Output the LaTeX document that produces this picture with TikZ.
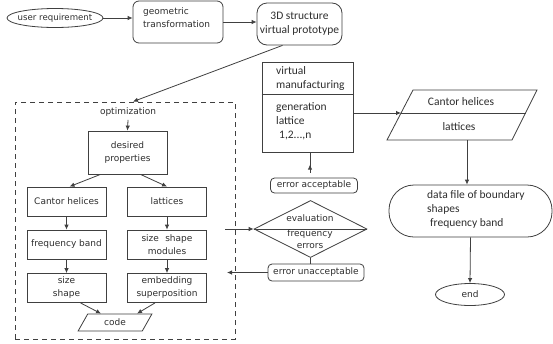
\documentclass[tikz,border=0pt]{standalone}
\usepackage{fontspec}
\setmainfont{DejaVu Sans}
\newfontfamily\calfont{Carlito}
\usetikzlibrary{arrows.meta,shapes.geometric,calc}
\definecolor{lnc}{HTML}{404040}
\definecolor{txc}{HTML}{2E2E2E}
\begin{document}
\begin{tikzpicture}[x=1pt,y=-1pt,
  every node/.style={text=txc, font=\fontsize{9}{13}\selectfont},
  box/.style={draw=lnc, line width=0.8pt, minimum width=79pt, minimum height=29pt, inner sep=1pt, align=center},
  rbox/.style={box, rounded corners=6pt},
  arr/.style={draw=lnc, line width=0.8pt, -{Latex[length=5pt,width=4.5pt]}},
  lnk/.style={draw=lnc, line width=0.8pt},
  cal/.style={font=\calfont\fontsize{11.5}{14}\selectfont},
]
\fill[white] (0,0) rectangle (553,343);
\useasboundingbox (0,0) rectangle (553,343);

% top row
\node[draw=lnc, line width=0.8pt, ellipse, minimum width=96pt, minimum height=19pt, inner sep=0] (ureq) at (55,18) {};
\node[font=\fontsize{8.6}{12}\selectfont] (ureqT) at (ureq) {user requirement};
\node[rbox, minimum width=90pt, minimum height=42pt] (geo) at (178,22) {};
\node[anchor=north west, align=left, inner sep=0] (geoT) at (143,7) {geometric\\transformation};
\node[rbox, rounded corners=10pt, minimum width=85pt, minimum height=42pt, cal] (td) at (299.5,24) {3D structure\\virtual prototype};

\draw[arr] (ureq.east) -- (ureq.east -| geo.west);
\draw[arr] (geo.east) -- (geo.east -| td.west);

% optimization box
\node[draw=lnc, line width=0.8pt, dash pattern=on 5pt off 4pt, minimum width=220pt, minimum height=237pt, inner sep=0] (optbox) at (125,220.5) {};
\draw[arr] ($(td.south)+(-17,0)$) -- ($(optbox.north)+(8,0)$);
\node (optT) at (128,112) {optimization};
\node[box, minimum height=43pt] (des) at (127.5,152.5) {desired\\properties};
\node[box] (cantL) at (66.5,201.5) {Cantor helices};
\node[box] (latL) at (167,201.5) {lattices};
\node[box] (freq) at (66.5,244.5) {frequency band};
\node[box] (mods) at (167,244.5) {size\hspace{0.7em}shape\\modules};
\node[box] (sizeL) at (66.5,288) {size\\shape};
\node[box] (embed) at (167,288) {embedding\\superposition};
\node[draw=lnc, line width=0.8pt, trapezium, trapezium left angle=65, trapezium right angle=115, trapezium stretches=true, minimum width=74pt, minimum height=17pt, inner sep=1pt] (code) at (115,322.5) {code};

\draw[arr] (optT.south) -- (des.north);
\draw[arr] ($(des.south)+(-27,0)$) -- ($(cantL.north)+(3,0)$);
\draw[arr] ($(des.south)+(13,0)$) -- (latL.north);
\draw[arr] (cantL) -- (freq);
\draw[arr] (freq) -- (sizeL);
\draw[arr] (latL) -- (mods);
\draw[arr] (mods) -- (embed);
\draw[arr] ($(sizeL.south)+(14,0)$) -- ($(code.north)+(-14,0)$);
\draw[arr] ($(embed.south)+(-12,0)$) -- ($(code.north)+(22,0)$);

% virtual manufacturing
\node[draw=lnc, line width=0.8pt, minimum width=91pt, minimum height=90pt, inner sep=0] (vm) at (307.5,107) {};
\draw[lnk] (vm.west |- 0,94) -- (vm.east |- 0,94);
\node[cal, anchor=north west, align=left, inner sep=0] (vmT) at (276,66) {virtual\\manufacturing};
\node[cal, anchor=north west, align=left, inner sep=0] (vmB) at (276,102) {generation\\lattice\\\hspace{3pt}1,2...,n};

\node[rbox, rounded corners=4pt, minimum width=87pt, minimum height=15pt] (eacc) at (314,185.5) {error acceptable};
\coordinate (vmS) at ($(vm.south)+(2.5,0)$);
\coordinate (eaccT) at ($(eacc.north)+(-4,-5)$);
\coordinate (eaccH) at ($(eaccT)+(0,-8)$);
\draw[lnk] (vmS) -- (eaccT);
\draw[arr] (eaccT) -- (eaccH);

\node[draw=lnc, line width=0.8pt, diamond, aspect=2, minimum width=113pt, minimum height=57pt, inner sep=1pt] (eval) at (310.5,229) {};
\draw[lnk] (eval.west) -- (eval.east);
\node (evT) at (310,218) {evaluation};
\node[align=center, font=\fontsize{9}{11.5}\selectfont] (evB) at (310,239) {frequency\\errors};
\coordinate (inL) at (225,229);
\draw[arr] (inL) -- (eval.west);

\node[rbox, rounded corners=4pt, minimum width=96pt, minimum height=17pt] (eun) at (316,272.5) {error unacceptable};
\draw[lnk] (eval.south) -- (eval.south |- eun.north);
\coordinate (outL) at (227,272.5);
\draw[arr] (eun.west) -- (outL);

% right column: parallelogram
\coordinate (pTL) at (413,90);
\coordinate (pTR) at (537,90);
\coordinate (pBR) at (512,140);
\coordinate (pBL) at (387,140);
\coordinate (pML) at (401,113);
\coordinate (pMR) at (525.5,113);
\coordinate (pBot) at (467,140);
\draw[lnk, line join=miter] (pTL) -- (pTR) -- (pBR) -- (pBL) -- cycle;
\draw[lnk] (pML) -- (pMR);
\node[cal] (pRT) at (461,102) {Cantor helices};
\node[cal] (pRB) at (459,127) {lattices};
\draw[arr] (vm.east |- pML) -- (pML);

\node[draw=lnc, line width=0.8pt, rounded corners=25pt, minimum width=163pt, minimum height=52pt, inner sep=0] (data) at (470.5,211) {};
\node[cal, anchor=north west, align=left, inner sep=0] (dataT) at (427,190) {data file of boundary\\shapes\\\hspace{3pt}frequency band};
\draw[arr] (pBot) -- (pBot |- data.north);

\node[draw=lnc, line width=0.8pt, ellipse, minimum width=69pt, minimum height=22pt, inner sep=0] (fin) at (470,294.5) {end};
\draw[arr] (data.south) -- (fin.north);
\end{tikzpicture}
\end{document}
